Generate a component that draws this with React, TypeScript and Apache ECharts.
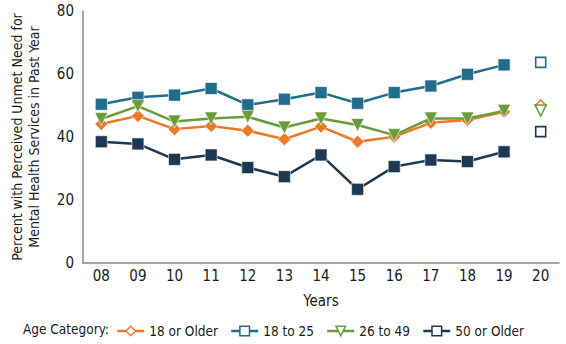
import React, { useEffect, useRef } from "react";
import * as echarts from "echarts";

const years = ["08", "09", "10", "11", "12", "13", "14", "15", "16", "17", "18", "19", "20"];
const yTicks = [0, 20, 40, 60, 80];
const older18 = [44.1, 46.7, 42.5, 43.5, 42.0, 39.3, 43.3, 38.5, 40.1, 44.5, 45.4, 48.0];
const age18to25 = [50.4, 52.6, 53.3, 55.4, 50.2, 52.0, 54.1, 50.7, 54.1, 56.2, 59.9, 62.9];
const age26to49 = [45.7, 49.8, 44.9, 45.9, 46.4, 43.0, 45.9, 43.8, 40.6, 45.9, 45.9, 48.3];
const older50 = [38.5, 37.8, 32.9, 34.3, 30.3, 27.4, 34.3, 23.4, 30.6, 32.7, 32.2, 35.3];
const year20 = { older18: 50.0, age18to25: 63.7, age26to49: 48.4, older50: 41.7 };

const names = ["18 or Older", "18 to 25", "26 to 49", "50 or Older"];
const colors = ["#ea7a28", "#216d8c", "#6b9c3c", "#1c3852"];
const symbols = ["diamond", "rect", "triangle", "rect"];
const rotates = [0, 0, 180, 0];
const sizes = [13, 12, 13, 12];
const FONT = "'DejaVu Sans Condensed', 'Liberation Sans Narrow', 'Liberation Sans', sans-serif";
const STRETCH = "normal condensed";

export default function App() {
  const ref = useRef<HTMLDivElement>(null);
  useEffect(() => {
    if (!ref.current) return;
    const chart = echarts.init(ref.current, undefined, { renderer: "svg" });
    const lineData = [older18, age18to25, age26to49, older50];
    const last = [year20.older18, year20.age18to25, year20.age26to49, year20.older50];
    const series: any[] = [];
    lineData.forEach((d, i) => {
      series.push({
        name: names[i],
        type: "line",
        data: [...d, null],
        symbol: symbols[i],
        symbolSize: sizes[i],
        symbolRotate: rotates[i],
        lineStyle: { color: colors[i], width: 2.5 },
        itemStyle: { color: colors[i], borderColor: "rgba(255,255,255,0.6)", borderWidth: 1 },
        z: 3 + i,
      });
      const sd: any[] = years.map(() => null);
      sd[12] = last[i];
      series.push({
        name: names[i] + " 2020",
        type: "line",
        data: sd,
        symbol: symbols[i],
        symbolSize: sizes[i] - 2,
        symbolRotate: rotates[i],
        showAllSymbol: true,
        lineStyle: { width: 0 },
        itemStyle: { color: "#ffffff", borderColor: colors[i], borderWidth: 1.6 },
        z: 3 + i,
      });
    });
    const txt = { fontFamily: FONT, fontWeight: STRETCH, color: "#1a1a1a" };
    chart.setOption({
      animation: false,
      textStyle: { fontFamily: FONT },
      grid: { left: 71, right: 7, top: 11, bottom: 81 },
      xAxis: {
        type: "category",
        data: years,
        boundaryGap: true,
        name: "Years",
        nameLocation: "middle",
        nameGap: 30,
        nameTextStyle: { ...txt, fontSize: 15 },
        axisLine: { lineStyle: { color: "#8a8a8a", width: 1.5 } },
        axisTick: { show: false },
        axisLabel: { ...txt, fontSize: 15, margin: 5 },
      },
      yAxis: {
        type: "value",
        min: yTicks[0],
        max: yTicks[yTicks.length - 1],
        interval: 20,
        name: "Percent with Perceived Unmet Need for\nMental Health Services in Past Year",
        nameLocation: "middle",
        nameGap: 41,
        nameTextStyle: { ...txt, fontSize: 14, lineHeight: 17 },
        axisLine: { show: true, lineStyle: { color: "#8a8a8a", width: 1.5 } },
        axisTick: { show: false },
        splitLine: { show: false },
        axisLabel: { ...txt, fontSize: 15, margin: 9 },
      },
      legend: {
        left: 111,
        top: 319,
        itemWidth: 27,
        itemHeight: 12,
        itemGap: 12,
        textStyle: { ...txt, fontSize: 13.5 },
        data: names.map((n, i) => ({
          name: n,
          itemStyle: { color: "#ffffff", borderColor: colors[i], borderWidth: 1.5 },
          lineStyle: { color: colors[i], width: 2.5 },
        })),
      },
      graphic: [
        {
          type: "text",
          left: 23,
          top: 322,
          style: { text: "Age Category:", font: STRETCH + " 13.5px " + FONT, fill: "#1a1a1a" },
        },
      ],
      series,
    });
    return () => chart.dispose();
  }, []);
  return (
    <div
      ref={ref}
      style={{ position: "fixed", left: 0, top: 0, width: 566, height: 344, background: "#fff" }}
    />
  );
}
